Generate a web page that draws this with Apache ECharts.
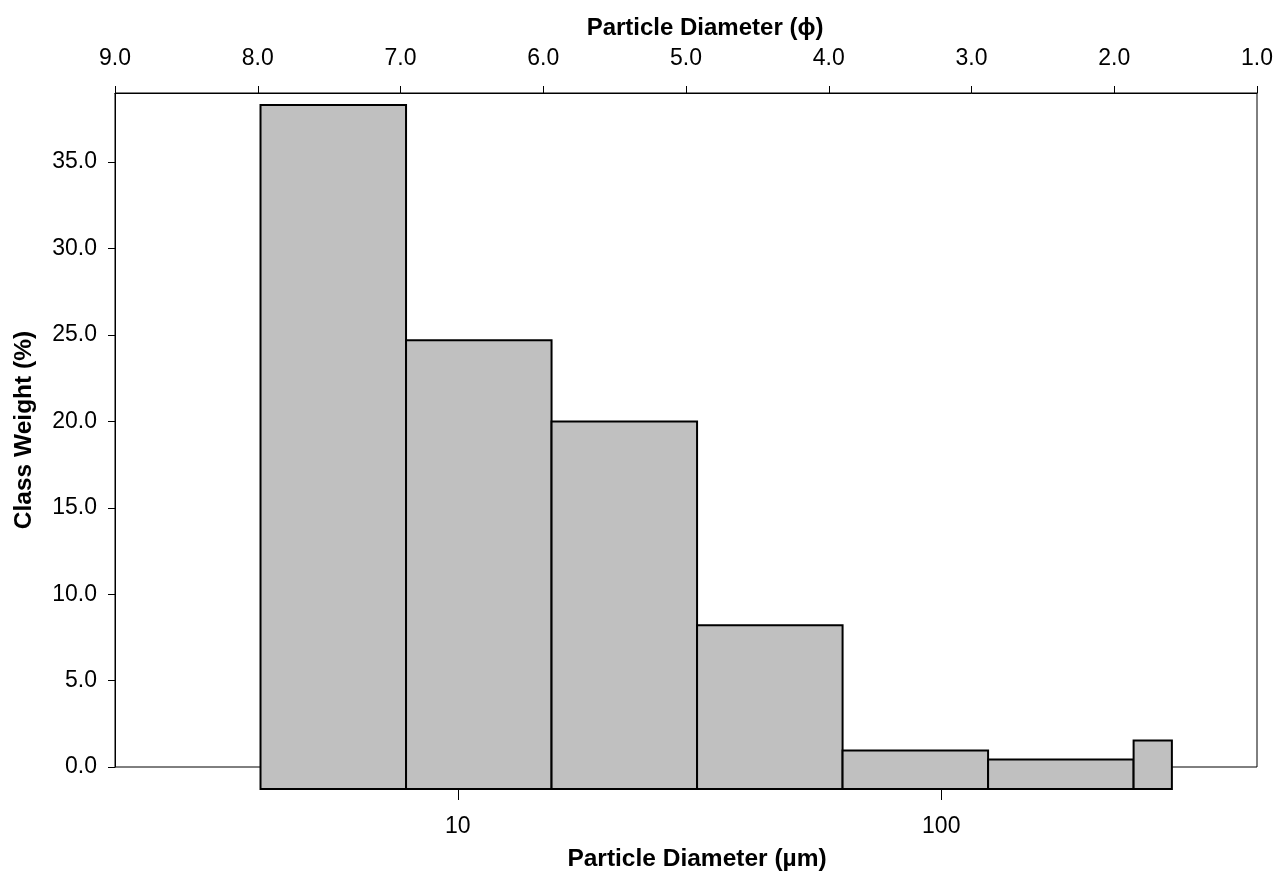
<!DOCTYPE html>
<html><head><meta charset="utf-8">
<script src="https://cdn.jsdelivr.net/npm/echarts@6/dist/echarts.min.js"></script>
<style>html,body{margin:0;padding:0;background:#fff}#c{width:1278px;height:875px}</style>
</head><body><div id="c"></div>
<script>
// ---- data ----
const binLowerUm = [3.906, 7.8125, 15.625, 31.25, 62.5, 125, 250];
const binUpperUm = [7.8125, 15.625, 31.25, 62.5, 125, 250, 300];
const classWeight = [38.3, 24.7, 20.0, 8.2, 0.96, 0.44, 1.54];
const yTickValues = [0, 5, 10, 15, 20, 25, 30, 35];
const umTickValues = [10, 100];
const phiMin = 1, phiMax = 9, phiStep = 1;

const FONT = '"Liberation Sans", Arial, sans-serif';
const chart = echarts.init(document.getElementById('c'), null, {renderer: 'canvas'});

const labelStyle = {color: '#000', fontFamily: FONT, fontSize: 23};
const nameStyle = {color: '#000', fontFamily: FONT, fontSize: 24.5, fontWeight: 'bold'};

const option = {
  animation: false,
  backgroundColor: '#fff',
  grid: [
    {left: 115, right: 21, top: 93, bottom: 108, outerBoundsMode: 'none', containLabel: false,
     show: true, borderColor: '#000', borderWidth: 1, backgroundColor: 'transparent'},
    {left: 115, right: 21, top: 93, bottom: 86, outerBoundsMode: 'none', containLabel: false}
  ],
  xAxis: [
    {
      gridIndex: 0, type: 'value', position: 'top', inverse: true,
      min: phiMin, max: phiMax, interval: phiStep,
      axisLine: {show: true, onZero: false, lineStyle: {color: '#000', width: 1}},
      axisTick: {show: true, inside: false, length: 7, lineStyle: {color: '#000', width: 1}},
      axisLabel: Object.assign({margin: 23, formatter: v => v.toFixed(1)}, labelStyle),
      splitLine: {show: false},
      name: 'Particle Diameter (ϕ)', nameLocation: 'middle', nameGap: 53,
      nameTextStyle: Object.assign({}, nameStyle, {fontSize: 24, padding: [0, 0, 0, 38]})
    },
    {
      gridIndex: 1, type: 'log', logBase: 10, min: 1.953, max: 450, position: 'bottom',
      axisLine: {show: false, onZero: false},
      axisTick: {show: true, customValues: umTickValues, length: 11, lineStyle: {color: '#000', width: 1}},
      axisLabel: Object.assign({margin: 26, customValues: umTickValues}, labelStyle),
      splitLine: {show: false}, minorTick: {show: false},
      name: 'Particle Diameter (µm)', nameLocation: 'middle', nameGap: 58,
      nameTextStyle: Object.assign({}, nameStyle, {padding: [0, 0, 0, 22]})
    }
  ],
  yAxis: [
    {
      gridIndex: 0, type: 'value', min: 0, max: 39,
      axisLine: {show: true, onZero: false, lineStyle: {color: '#000', width: 1}},
      axisTick: {show: true, inside: false, length: 7, customValues: yTickValues, lineStyle: {color: '#000', width: 1}},
      axisLabel: Object.assign({margin: 18, customValues: yTickValues, formatter: v => v.toFixed(1)}, labelStyle),
      splitLine: {show: false},
      name: 'Class Weight (%)', nameLocation: 'middle', nameGap: 78, nameRotate: 90,
      nameTextStyle: nameStyle
    },
    {gridIndex: 1, type: 'value', min: -1.27, max: 39, show: false, axisLine: {onZero: false}}
  ],
  series: [{
    type: 'custom',
    xAxisIndex: 1, yAxisIndex: 1,
    clip: false,
    z: 5,
    data: classWeight.map((v, i) => [binLowerUm[i], binUpperUm[i], v]),
    encode: {x: [0, 1], y: 2},
    renderItem: function (params, api) {
      const p0 = api.coord([api.value(0), api.value(2)]);
      const p1 = api.coord([api.value(1), api.value(2)]);
      const cs = params.coordSys;
      const yb = cs.y + cs.height;
      return {
        type: 'rect',
        shape: {x: p0[0], y: p0[1], width: p1[0] - p0[0], height: yb - p0[1]},
        style: {fill: '#C0C0C0', stroke: '#000', lineWidth: 2}
      };
    }
  }]
};
chart.setOption(option);
</script>
</body></html>
